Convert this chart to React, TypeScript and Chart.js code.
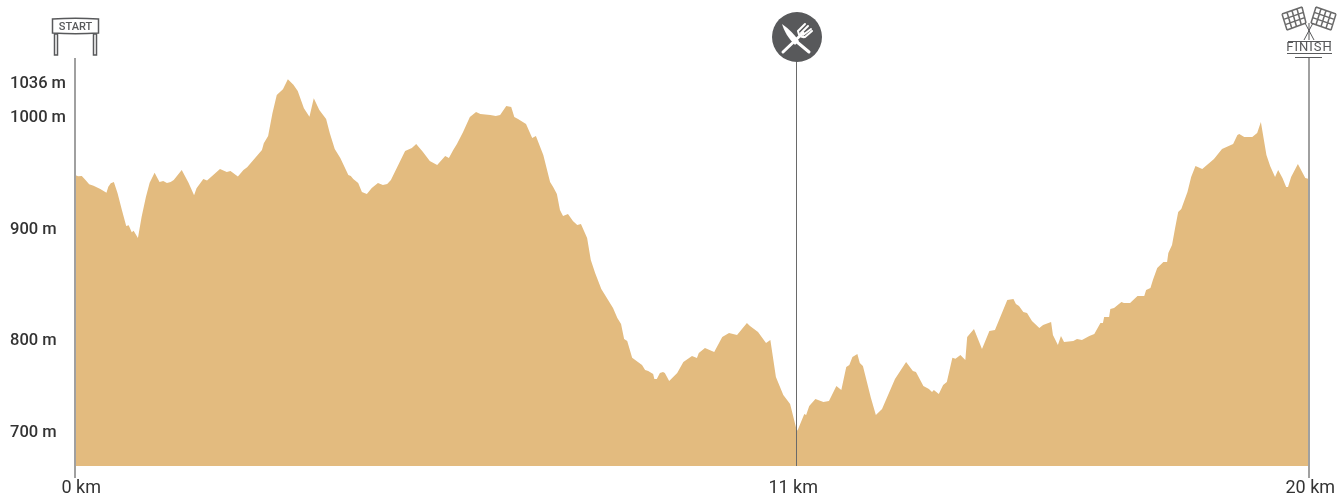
import React, { useEffect, useRef } from "react";
import { Chart, registerables } from "chart.js";

Chart.register(...registerables);

const distanceKm = [
  0, 0.05, 0.11, 0.17, 0.23, 0.3, 0.41, 0.51, 0.54, 0.58, 0.63, 0.69, 0.76, 0.83, 0.87, 0.92, 0.95, 1.02, 1.08, 1.15,
  1.21, 1.29, 1.37, 1.43, 1.49, 1.55, 1.6, 1.73, 1.84, 1.93, 1.97, 2.08, 2.14, 2.35, 2.46, 2.52, 2.64, 2.73, 2.79, 3.03,
  3.06, 3.13, 3.2, 3.27, 3.37, 3.45, 3.54, 3.61, 3.71, 3.8, 3.87, 3.96, 4.07, 4.13, 4.21, 4.3, 4.43, 4.47, 4.51, 4.59,
  4.65, 4.73, 4.81, 4.91, 4.99, 5.06, 5.12, 5.35, 5.46, 5.53, 5.64, 5.75, 5.87, 6.0, 6.06, 6.13, 6.19, 6.29, 6.4, 6.5,
  6.57, 6.73, 6.82, 6.89, 6.99, 7.07, 7.12, 7.18, 7.31, 7.41, 7.47, 7.59, 7.7, 7.75, 7.81, 7.86, 7.91, 7.99, 8.07, 8.14,
  8.2, 8.3, 8.36, 8.43, 8.53, 8.72, 8.79, 8.85, 8.9, 8.95, 9.03, 9.19, 9.24, 9.29, 9.37, 9.39, 9.43, 9.48, 9.53, 9.56,
  9.63, 9.76, 9.86, 10.0, 10.08, 10.11, 10.21, 10.36, 10.49, 10.6, 10.73, 10.89, 10.94, 11.07, 11.2, 11.27, 11.36, 11.48, 11.59, 11.7,
  11.72, 11.82, 11.85, 11.9, 12.0, 12.13, 12.22, 12.34, 12.42, 12.5, 12.55, 12.6, 12.68, 12.72, 12.77, 12.9, 12.98, 13.08, 13.29, 13.47,
  13.58, 13.63, 13.75, 13.84, 13.89, 13.92, 14.0, 14.07, 14.13, 14.22, 14.27, 14.35, 14.43, 14.46, 14.57, 14.7, 14.82, 14.91, 15.11, 15.21,
  15.25, 15.3, 15.37, 15.43, 15.51, 15.63, 15.69, 15.82, 15.85, 15.93, 15.98, 16.03, 16.18, 16.24, 16.32, 16.44, 16.52, 16.62, 16.66, 16.68,
  16.76, 16.78, 16.84, 16.96, 17.0, 17.1, 17.22, 17.33, 17.36, 17.43, 17.47, 17.54, 17.64, 17.7, 17.72, 17.78, 17.83, 17.88, 17.93, 18.03,
  18.09, 18.16, 18.27, 18.46, 18.59, 18.77, 18.84, 18.87, 18.95, 19.08, 19.16, 19.22, 19.31, 19.37, 19.45, 19.5, 19.57, 19.63, 19.66, 19.71,
  19.82, 19.94, 20,
];

const elevationM = [
  947.1, 945.9, 946.2, 942.6, 938.7, 937.5, 934.5, 931.2, 936.6, 939.6, 940.8, 930.7, 915.7, 901.3, 902.0, 895.7, 897.1, 890.6, 909.7, 927.6,
  940.2, 949.1, 940.8, 941.7, 939.9, 940.8, 942.6, 951.6, 940.2, 928.9, 935.1, 943.5, 942.0, 952.5, 949.8, 950.7, 945.6, 951.6, 954.0, 969.5,
  975.5, 982.1, 1002.4, 1018.8, 1024.0, 1032.9, 1028.1, 1022.4, 1006.9, 999.4, 1015.9, 1005.4, 997.3, 984.5, 970.4, 962.3, 947.1, 946.2, 943.5, 939.9,
  931.8, 930.0, 935.4, 939.9, 938.1, 939.0, 942.6, 968.6, 971.3, 974.9, 967.7, 959.6, 956.0, 964.1, 962.3, 969.5, 974.9, 985.6, 999.1, 1003.6,
  1001.8, 1000.9, 1000.0, 1000.9, 1009.0, 1008.1, 999.1, 997.3, 992.8, 980.3, 982.1, 965.0, 940.8, 936.3, 930.0, 915.7, 910.3, 912.1, 905.8, 902.2,
  903.1, 890.6, 870.8, 859.2, 844.8, 827.8, 818.8, 813.4, 800.0, 798.2, 783.0, 776.6, 772.2, 771.3, 768.6, 764.1, 764.1, 769.5, 770.4, 769.5,
  762.3, 769.5, 779.3, 784.7, 782.9, 787.4, 791.9, 788.3, 801.8, 805.3, 803.5, 814.3, 811.6, 806.2, 796.4, 799.1, 765.9, 749.7, 741.7, 717.5,
  719.2, 732.7, 731.8, 739.9, 746.2, 743.4, 744.3, 757.8, 754.2, 774.9, 776.6, 783.8, 786.5, 778.4, 775.7, 747.1, 731.8, 737.2, 764.1, 779.3,
  771.3, 770.4, 757.8, 755.1, 752.4, 754.2, 750.6, 758.7, 761.4, 783.0, 782.1, 785.6, 781.1, 801.8, 809.0, 791.0, 807.1, 808.1, 835.0, 835.9,
  831.4, 829.6, 824.2, 823.3, 816.1, 809.8, 812.5, 815.2, 803.5, 794.6, 802.6, 797.3, 798.2, 800.0, 799.1, 802.6, 804.4, 814.3, 814.3, 819.7,
  819.7, 826.9, 827.8, 833.2, 832.3, 832.3, 838.6, 838.6, 843.9, 845.7, 852.9, 863.7, 869.1, 869.1, 877.1, 884.3, 899.5, 913.9, 916.6, 931.8,
  945.3, 955.2, 952.5, 961.4, 970.4, 974.9, 983.0, 983.8, 981.1, 981.1, 984.7, 994.6, 965.0, 955.2, 945.3, 951.6, 944.4, 936.3, 936.3, 945.3,
  957.0, 944.4, 943.5,
];

const elevationTickValues = [1030.5, 1000, 899.5, 800, 717.5];
const elevationTickLabels = ["1036 m", "1000 m", "900 m", "800 m", "700 m"];
const markerDistances = [0, 11.7, 20];
const distanceLabelPositions = [0.1, 11.64, 20.02];
const distanceTickLabels = ["0 km", "11 km", "20 km"];

const AREA_COLOR = "#e3bb7f";
const TEXT_COLOR = "#333333";
const ICON_COLOR = "#58595b";
const ELEVATION_FONT = { family: "Roboto", size: 16.5, weight: 500 };
const DISTANCE_FONT = { family: "Roboto", size: 18, weight: 400 };

function drawStart(ctx: CanvasRenderingContext2D) {
  ctx.strokeStyle = ICON_COLOR;
  ctx.lineWidth = 1.5;
  ctx.beginPath();
  ctx.moveTo(52.5, 19);
  ctx.quadraticCurveTo(75.5, 17.5, 98.5, 19);
  ctx.lineTo(98.5, 33);
  ctx.quadraticCurveTo(75.5, 34.5, 52.5, 33);
  ctx.closePath();
  ctx.stroke();
  ctx.strokeRect(54.5, 34, 3, 21);
  ctx.strokeRect(93.5, 34, 3, 21);
  ctx.fillStyle = ICON_COLOR;
  ctx.font = "500 11px Roboto";
  ctx.textAlign = "center";
  ctx.textBaseline = "middle";
  ctx.fillText("START", 75.5, 27.5);
}

function drawMeal(ctx: CanvasRenderingContext2D) {
  ctx.fillStyle = ICON_COLOR;
  ctx.beginPath();
  ctx.arc(797, 37, 25, 0, Math.PI * 2);
  ctx.fill();
  ctx.strokeStyle = "#ffffff";
  ctx.fillStyle = "#ffffff";
  ctx.lineCap = "round";
  // knife
  ctx.beginPath();
  ctx.moveTo(782, 24);
  ctx.quadraticCurveTo(792, 31, 799, 41);
  ctx.lineTo(795, 45);
  ctx.quadraticCurveTo(785, 35, 782, 24);
  ctx.fill();
  ctx.lineWidth = 3;
  ctx.beginPath();
  ctx.moveTo(797, 42);
  ctx.lineTo(809, 52);
  ctx.stroke();
  // fork
  ctx.beginPath();
  ctx.moveTo(783, 52);
  ctx.lineTo(803, 33);
  ctx.stroke();
  ctx.lineWidth = 2;
  ctx.beginPath();
  ctx.moveTo(798, 31);
  ctx.lineTo(805, 24);
  ctx.moveTo(801, 33);
  ctx.lineTo(808, 26);
  ctx.moveTo(803, 35);
  ctx.lineTo(811, 29);
  ctx.moveTo(805, 37);
  ctx.lineTo(812, 31);
  ctx.moveTo(798, 31);
  ctx.quadraticCurveTo(799, 38, 805, 37);
  ctx.stroke();
  ctx.lineCap = "butt";
}

function drawFlag(ctx: CanvasRenderingContext2D, q: number[][]) {
  const cols = 4;
  const rows = 3;
  const at = (u: number, v: number) => {
    const top = [q[0][0] + (q[1][0] - q[0][0]) * u, q[0][1] + (q[1][1] - q[0][1]) * u];
    const bot = [q[3][0] + (q[2][0] - q[3][0]) * u, q[3][1] + (q[2][1] - q[3][1]) * u];
    return [top[0] + (bot[0] - top[0]) * v, top[1] + (bot[1] - top[1]) * v];
  };
  ctx.strokeStyle = "#6a6a6a";
  ctx.lineWidth = 1.5;
  ctx.beginPath();
  for (let c = 0; c <= cols; c++) {
    const a = at(c / cols, 0);
    const b = at(c / cols, 1);
    ctx.moveTo(a[0], a[1]);
    ctx.lineTo(b[0], b[1]);
  }
  for (let r = 0; r <= rows; r++) {
    const a = at(0, r / rows);
    const b = at(1, r / rows);
    ctx.moveTo(a[0], a[1]);
    ctx.lineTo(b[0], b[1]);
  }
  ctx.stroke();
}

function drawFinish(ctx: CanvasRenderingContext2D) {
  drawFlag(ctx, [[1282, 14], [1302, 7], [1306, 23], [1287, 30]]);
  drawFlag(ctx, [[1336, 14], [1316, 7], [1311, 23], [1331, 30]]);
  ctx.strokeStyle = ICON_COLOR;
  ctx.lineWidth = 1;
  ctx.beginPath();
  ctx.moveTo(1305, 23);
  ctx.lineTo(1314, 40);
  ctx.moveTo(1313, 23);
  ctx.lineTo(1304, 40);
  ctx.moveTo(1309, 23);
  ctx.lineTo(1309, 40);
  ctx.moveTo(1288, 41.5);
  ctx.lineTo(1331, 41.5);
  ctx.moveTo(1287, 53.5);
  ctx.lineTo(1332, 53.5);
  ctx.moveTo(1295, 57.5);
  ctx.lineTo(1322, 57.5);
  ctx.stroke();
  ctx.fillStyle = ICON_COLOR;
  ctx.font = "400 13px Roboto";
  (ctx as any).letterSpacing = "1px";
  ctx.textAlign = "center";
  ctx.textBaseline = "middle";
  ctx.fillText("FINISH", 1309.5, 48);
  (ctx as any).letterSpacing = "0px";
}

const iconsPlugin = {
  id: "routeIcons",
  afterDraw(chart: Chart) {
    const ctx = chart.ctx;
    ctx.save();
    drawStart(ctx);
    drawMeal(ctx);
    drawFinish(ctx);
    ctx.restore();
  },
};

export default function App() {
  const ref = useRef<HTMLCanvasElement>(null);

  useEffect(() => {
    if (!ref.current) return;
    const chart = new Chart(ref.current, {
      type: "line",
      data: {
        datasets: [
          {
            data: distanceKm.map((x, i) => ({ x, y: elevationM[i] })),
            backgroundColor: AREA_COLOR,
            borderWidth: 0,
            pointRadius: 0,
            tension: 0,
            fill: "start",
            xAxisID: "x",
            yAxisID: "y",
          },
        ],
      },
      options: {
        animation: false,
        responsive: false,
        layout: { padding: { left: 10, right: 28, top: 58, bottom: 0 } },
        plugins: { legend: { display: false }, tooltip: { enabled: false } },
        scales: {
          x: {
            type: "linear",
            position: "bottom",
            min: 0,
            max: 20,
            border: { display: false },
            afterFit(scale: any) {
              scale.height = 0;
              scale.paddingLeft = scale.paddingRight = 0;
            },
            afterBuildTicks(scale: any) {
              scale.ticks = markerDistances.map((value) => ({ value }));
            },
            ticks: { display: false },
            grid: {
              z: 1,
              drawTicks: true,
              tickLength: 12,
              color: (c: any) => (c.index === 1 ? "#6a6a6a" : "#a0a0a0"),
              tickColor: (c: any) => (c.index === 1 ? "transparent" : "#a0a0a0"),
              lineWidth: (c: any) => (c.index === 1 ? 1 : 2),
            },
          },
          xLabels: {
            type: "linear",
            position: "bottom",
            min: 0,
            max: 20,
            border: { display: false },
            grid: { display: false, drawTicks: false },
            afterFit(scale: any) {
              scale.height = 31;
              scale.paddingLeft = scale.paddingRight = 0;
            },
            afterBuildTicks(scale: any) {
              scale.ticks = distanceLabelPositions.map((value) => ({ value }));
            },
            ticks: {
              autoSkip: false,
              maxRotation: 0,
              padding: 12,
              color: TEXT_COLOR,
              font: DISTANCE_FONT,
              callback: (_v: any, i: number) => distanceTickLabels[i],
            },
          },
          y: {
            type: "linear",
            position: "left",
            min: 686,
            max: 1052,
            border: { display: false },
            grid: { display: false, drawTicks: false },
            afterFit(scale: any) {
              scale.width = 65;
            },
            afterBuildTicks(scale: any) {
              scale.ticks = elevationTickValues.map((value) => ({ value }));
            },
            ticks: {
              autoSkip: false,
              crossAlign: "far",
              labelOffset: 2,
              color: TEXT_COLOR,
              font: ELEVATION_FONT,
              callback: (_v: any, i: number) => elevationTickLabels[i],
            },
          },
        },
      },
      plugins: [iconsPlugin],
    } as any);
    return () => chart.destroy();
  }, []);

  return (
    <div style={{ position: "absolute", left: 0, top: 0, width: 1337, height: 497 }}>
      <canvas ref={ref} width={1337} height={497} style={{ display: "block" }} />
    </div>
  );
}
